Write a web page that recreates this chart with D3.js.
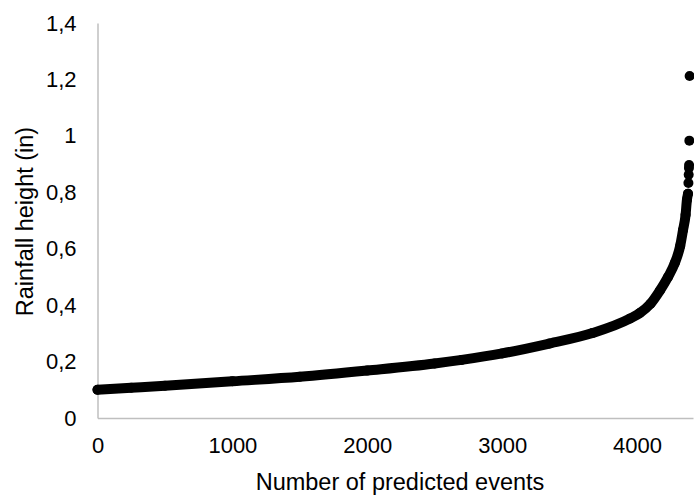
<!DOCTYPE html>
<html>
<head>
<meta charset="utf-8">
<script src="https://cdn.jsdelivr.net/npm/d3@7"></script>
<style>
  html, body { margin: 0; padding: 0; background: #fff; }
  svg { display: block; }
  text { font-family: "Liberation Sans", Arial, sans-serif; fill: #000; }
</style>
</head>
<body>
<svg id="chart" width="694" height="495"></svg>
<script>
// Sorted predicted rainfall heights (dense band)
const bandEvents = [0, 250, 500, 1000, 1500, 2000, 2500, 2700, 3000, 3350, 3670, 3950, 4020, 4100, 4170, 4230, 4280, 4320, 4341, 4360, 4370, 4378];
const bandValues = [0.100, 0.107, 0.114, 0.130, 0.146, 0.168, 0.193, 0.206, 0.229, 0.264, 0.301, 0.353, 0.372, 0.405, 0.452, 0.500, 0.549, 0.610, 0.666, 0.720, 0.773, 0.795];
// Isolated largest events at the right end
const outlierEvents = [4381, 4383, 4385, 4386, 4388, 4390];
const outlierValues = [0.833, 0.862, 0.886, 0.897, 0.983, 1.212];

const xTicks = [0, 1000, 2000, 3000, 4000];
const yTicks = [0, 0.2, 0.4, 0.6, 0.8, 1, 1.2, 1.4];
const xTitle = "Number of predicted events";
const yTitle = "Rainfall height (in)";

const svg = d3.select("#chart");
const x = d3.scaleLinear().domain([0, 4415]).range([97.5, 693]);
const y = d3.scaleLinear().domain([0, 1.4]).range([418, 23]);
const fmt = v => String(+v.toFixed(1)).replace(".", ",");

// axes lines
const axisColor = "#bfbfbf";
const yAxis = d3.axisLeft(y).tickValues(yTicks).tickSize(0).tickPadding(21).tickFormat(fmt);
const gy = svg.append("g").attr("transform", `translate(${x(0)},0)`).call(yAxis);
gy.select(".domain").attr("stroke", axisColor).attr("stroke-width", 1.5);
gy.selectAll("text").attr("font-size", 22).attr("fill", "#000")
  .style("font-family", '"Liberation Sans", Arial, sans-serif');

const xAxis = d3.axisBottom(x).tickValues(xTicks).tickSize(0).tickPadding(19).tickFormat(d3.format("d"));
const gx = svg.append("g").attr("transform", `translate(0,${y(0)})`).call(xAxis);
gx.select(".domain").attr("stroke", axisColor).attr("stroke-width", 1.5);
gx.selectAll("text").attr("font-size", 22).attr("fill", "#000")
  .style("font-family", '"Liberation Sans", Arial, sans-serif');

// dense band of points
const band = bandEvents.map((e, i) => [e, bandValues[i]]);
const line = d3.line().x(d => x(d[0])).y(d => y(d[1])).curve(d3.curveMonotoneX);
svg.append("path")
  .attr("d", line(band))
  .attr("fill", "none")
  .attr("stroke", "#000")
  .attr("stroke-width", 10)
  .attr("stroke-linecap", "round")
  .attr("stroke-linejoin", "round");

// individual markers
const pts = bandEvents.map((e, i) => [e, bandValues[i]])
  .concat(outlierEvents.map((e, i) => [e, outlierValues[i]]));
svg.append("g").selectAll("circle").data(pts).join("circle")
  .attr("cx", d => x(d[0])).attr("cy", d => y(d[1])).attr("r", 5).attr("fill", "#000");

// titles
svg.append("text")
  .attr("x", 400).attr("y", 490)
  .attr("text-anchor", "middle").attr("font-size", 23.5)
  .text(xTitle);
svg.append("text")
  .attr("transform", "translate(33,221.5) rotate(-90)")
  .attr("text-anchor", "middle").attr("font-size", 23.5)
  .text(yTitle);
</script>
</body>
</html>
